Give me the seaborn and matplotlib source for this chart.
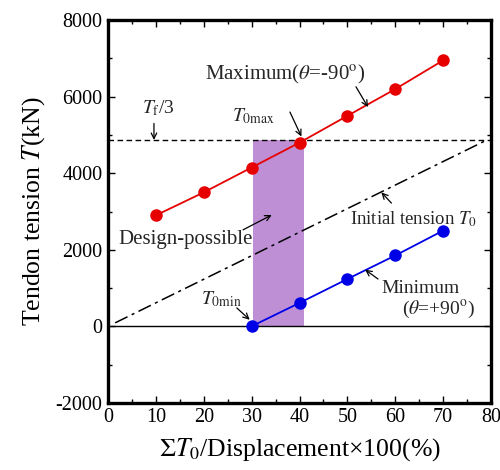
import matplotlib
matplotlib.use('Agg')
import matplotlib.pyplot as plt
from matplotlib.ticker import MultipleLocator
import seaborn as sns
import pandas as pd

# data
ratio = [10, 20, 30, 40, 50, 60, 70]
t_max = [2900, 3500, 4150, 4800, 5500, 6200, 6950]
ratio_min = [30, 40, 50, 60, 70]
t_min = [0, 610, 1235, 1850, 2500]
init_x = [1.5, 79]
init_y = [90, 4860]
tf3 = 4870
band = [30.2, 40.9]


def main():
    sns.set_style('ticks')
    plt.rcParams['font.family'] = ['Liberation Serif', 'DejaVu Serif']
    plt.rcParams['mathtext.fontset'] = 'stix'
    plt.rcParams['axes.unicode_minus'] = False
    plt.rcParams['xtick.direction'] = 'in'
    plt.rcParams['ytick.direction'] = 'in'

    fig = plt.figure(figsize=(5, 4.7), dpi=100)
    ax = fig.add_axes([0.216, 0.143, 0.766, 0.814])

    df_max = pd.DataFrame({'x': ratio, 'T': t_max})
    df_min = pd.DataFrame({'x': ratio_min, 'T': t_min})

    ax.fill_between(band, 0, tf3, color='#bf8fd6', lw=0, zorder=1)
    ax.axhline(tf3, color='k', lw=1, ls=(0, (4, 2.5)), zorder=2)
    ax.axhline(0, color='k', lw=1, zorder=2)
    ax.plot(init_x, init_y, color='k', lw=1.1, ls=(0, (9, 3, 2, 3)), zorder=2)

    sns.lineplot(data=df_max, x='x', y='T', color='#e60000', marker='o',
                 markersize=9, markeredgewidth=0, lw=1.3, ax=ax, zorder=3)
    sns.lineplot(data=df_min, x='x', y='T', color='#0000e6', marker='o',
                 markersize=9, markeredgewidth=0, lw=1.3, ax=ax, zorder=3)

    ax.set_xlim(0, 80)
    ax.set_ylim(-2000, 8000)
    ax.xaxis.set_major_locator(MultipleLocator(10))
    ax.xaxis.set_minor_locator(MultipleLocator(5))
    ax.yaxis.set_major_locator(MultipleLocator(2000))
    ax.yaxis.set_minor_locator(MultipleLocator(1000))
    ax.tick_params(which='both', top=True, right=True, labelsize=14.5, pad=4,
                   color='k', labelcolor='k')
    ax.tick_params(which='major', length=5, width=1)
    ax.tick_params(which='minor', length=3, width=1)
    for s in ax.spines.values():
        s.set_linewidth(2.4)
        s.set_color('k')

    ax.set_xlabel(r'$\Sigma T_0$/Displacement×100(%)', fontsize=18.5,
                  labelpad=6, color='k')
    ax.set_ylabel(r'Tendon tension $T$(kN)', fontsize=18.5, labelpad=6,
                  color='k')

    arrow = dict(arrowstyle='->', color='k', lw=0.9,
                 shrinkA=0, shrinkB=0)

    ax.text(20.2, 6270, r'Maximum($\theta$=-90$^{\rm o}$)', fontsize=15,
            ha='left', va='bottom')
    ax.annotate('', xy=(54.3, 5730), xytext=(51.8, 6260), arrowprops=arrow)
    ax.text(25.8, 5230, r'$T_{\rm 0max}$', fontsize=14, ha='left', va='bottom')
    ax.annotate('', xy=(40.4, 4960), xytext=(38, 5600), arrowprops=arrow)
    ax.text(7.0, 5450, r'$T_{\rm f}$/3', fontsize=14, ha='left', va='bottom')
    ax.annotate('', xy=(9.6, 4870), xytext=(9.6, 5300), arrowprops=arrow)
    ax.text(50.5, 2800, r'Initial tension $T_0$', fontsize=13.5, ha='left',
            va='center')
    ax.annotate('', xy=(57.1, 3500), xytext=(59.2, 3220), arrowprops=arrow)
    ax.text(2.1, 2280, 'Design-possible', fontsize=15, ha='left', va='center')
    ax.annotate('', xy=(34.2, 2910), xytext=(28.2, 2520), arrowprops=arrow)
    ax.text(19.4, 450, r'$T_{\rm 0min}$', fontsize=14, ha='left', va='bottom')
    ax.annotate('', xy=(29.6, 170), xytext=(26.9, 480), arrowprops=arrow)
    ax.text(57.1, 1000, 'Minimum', fontsize=14, ha='left', va='center')
    ax.text(61.5, 440, r'($\theta$=+90$^{\rm o}$)', fontsize=14, ha='left',
            va='center')
    ax.annotate('', xy=(53.7, 1480), xytext=(56.4, 1235), arrowprops=arrow)

    fig.savefig('out.png', dpi=100)


if __name__ == '__main__':
    main()
